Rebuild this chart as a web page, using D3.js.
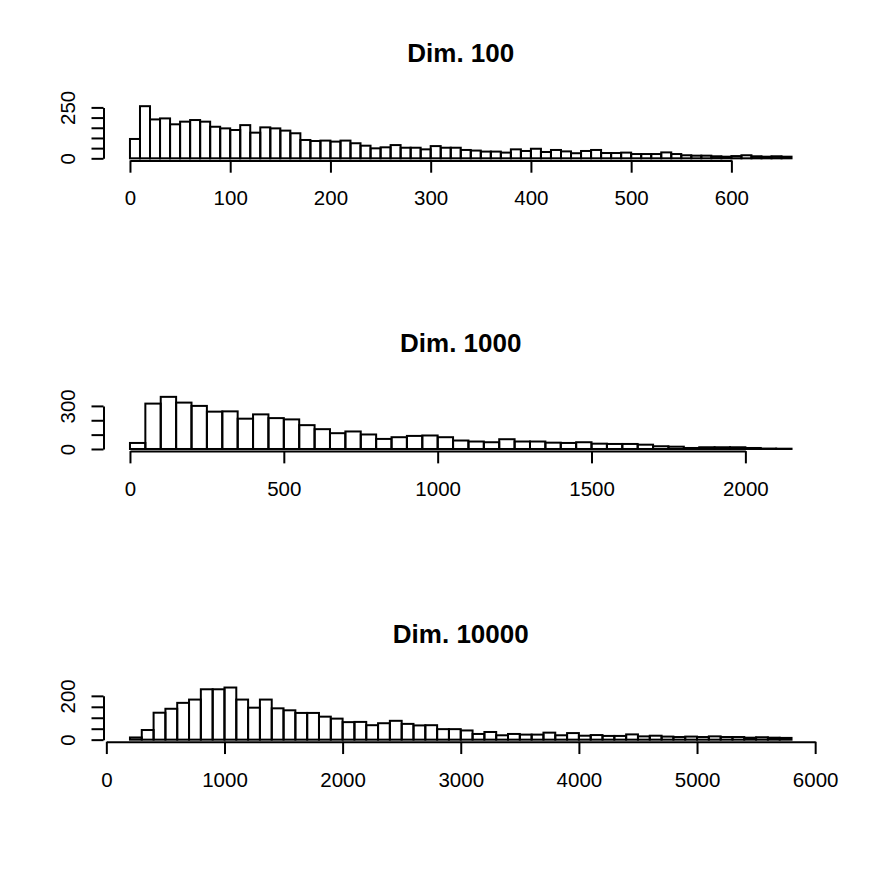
<!DOCTYPE html>
<html>
<head>
<meta charset="utf-8">
<script src="https://cdn.jsdelivr.net/npm/d3@7"></script>
<style>
  body { margin: 0; background: #fff; }
  svg { display: block; }
</style>
</head>
<body>
<script>
var titles = ['Dim. 100', 'Dim. 1000', 'Dim. 10000'];

// counts per bin
var counts100 = [95,256,191,196,167,180,188,180,155,147,139,163,126,152,147,136,123,90,85,87,
  82,87,74,62,49,54,65,52,52,44,60,52,52,41,38,33,33,28,44,36,
  47,31,41,34,25,36,41,26,26,28,21,21,21,29,21,15,13,13,10,8,
  11,15,10,8,10,8];
var counts1000 = [42,316,363,323,300,260,262,211,241,215,206,166,138,110,122,101,70,82,91,94,
  82,59,52,47,68,52,52,44,42,47,37,35,35,30,19,16,7,12,12,12,7,3,2];
var counts10000 = [10,44,123,141,168,183,230,230,238,183,146,183,143,134,122,122,105,96,80,81,
  66,75,86,72,65,66,48,48,42,26,35,20,26,23,23,32,20,30,18,21,
  17,17,24,15,18,14,12,14,12,15,12,12,9,11,9,8];

var binStart = [0, 0, 200];
var binWidth = [10, 50, 100];

var xTicks100 = [0,100,200,300,400,500,600];
var xTicks1000 = [0,500,1000,1500,2000];
var xTicks10000 = [0,1000,2000,3000,4000,5000,6000];
var yTicks100 = [0,50,100,150,200,250];
var yTicks1000 = [0,100,200,300];
var yTicks10000 = [0,50,100,150,200];
var yLabels100 = [0,250];
var yLabels1000 = [0,300];
var yLabels10000 = [0,200];

var panels = [
  {title: titles[0], counts: counts100, start: binStart[0], width: binWidth[0], xt: xTicks100, yt: yTicks100, yl: yLabels100},
  {title: titles[1], counts: counts1000, start: binStart[1], width: binWidth[1], xt: xTicks1000, yt: yTicks1000, yl: yLabels1000},
  {title: titles[2], counts: counts10000, start: binStart[2], width: binWidth[2], xt: xTicks10000, yt: yTicks10000, yl: yLabels10000}
];

var W = 872, left = 103.5, right = 818, plotH = 56.3, top0 = 104.1, step = 290.67;
var font = '"Liberation Sans", Arial, Helvetica, sans-serif';

var svg = d3.select('body').append('svg').attr('width', W).attr('height', W);

panels.forEach(function(p, k) {
  var top = top0 + k*step, bottom = top + plotH;
  var lo = p.start, hi = p.start + p.counts.length*p.width;
  var pad = (hi-lo)*0.04;
  var x = d3.scaleLinear().domain([lo-pad, hi+pad]).range([left, right]);
  var ymax = d3.max(p.counts);
  var y = d3.scaleLinear().domain([-0.04*ymax, 1.04*ymax]).range([bottom, top]);

  var g = svg.append('g');

  g.selectAll('rect').data(p.counts).enter().append('rect')
    .attr('x', function(d, i) { return x(p.start + i*p.width); })
    .attr('width', function(d, i) { return x(p.start + (i+1)*p.width) - x(p.start + i*p.width); })
    .attr('y', function(d) { return y(d); })
    .attr('height', function(d) { return y(0) - y(d); })
    .attr('fill', 'none').attr('stroke', 'black').attr('stroke-width', 2);

  // x axis: line only spans the ticks, like R
  var xa = d3.scaleLinear().domain([p.xt[0], p.xt[p.xt.length-1]]).range([x(p.xt[0]), x(p.xt[p.xt.length-1])]);
  var gx = g.append('g').attr('transform', 'translate(0,' + bottom + ')')
    .call(d3.axisBottom(xa).tickValues(p.xt).tickSize(12.3).tickSizeOuter(0).tickFormat(d3.format('d')));
  gx.selectAll('path, line').attr('stroke', 'black').attr('stroke-width', 2);
  gx.selectAll('text').attr('y', 45).attr('dy', null)
    .attr('font-size', 20.5).attr('font-family', font).attr('fill', 'black');

  var ya = d3.scaleLinear().domain([p.yt[0], p.yt[p.yt.length-1]]).range([y(p.yt[0]), y(p.yt[p.yt.length-1])]);
  var gy = g.append('g').attr('transform', 'translate(' + left + ',0)')
    .call(d3.axisLeft(ya).tickValues(p.yt).tickSize(12).tickSizeOuter(0)
      .tickFormat(function(d) { return p.yl.indexOf(d) >= 0 ? d : ''; }));
  gy.selectAll('path, line').attr('stroke', 'black').attr('stroke-width', 2);
  gy.selectAll('text').attr('x', null).attr('dy', null).attr('text-anchor', 'middle')
    .attr('transform', 'translate(' + (75-left) + ',0) rotate(-90)')
    .attr('font-size', 20.5).attr('font-family', font).attr('fill', 'black');

  g.append('text').attr('x', (left+right)/2).attr('y', top - 42.4)
    .attr('text-anchor', 'middle').attr('font-family', font).attr('font-weight', 'bold')
    .attr('font-size', 26).text(p.title);
});
</script>
</body>
</html>
